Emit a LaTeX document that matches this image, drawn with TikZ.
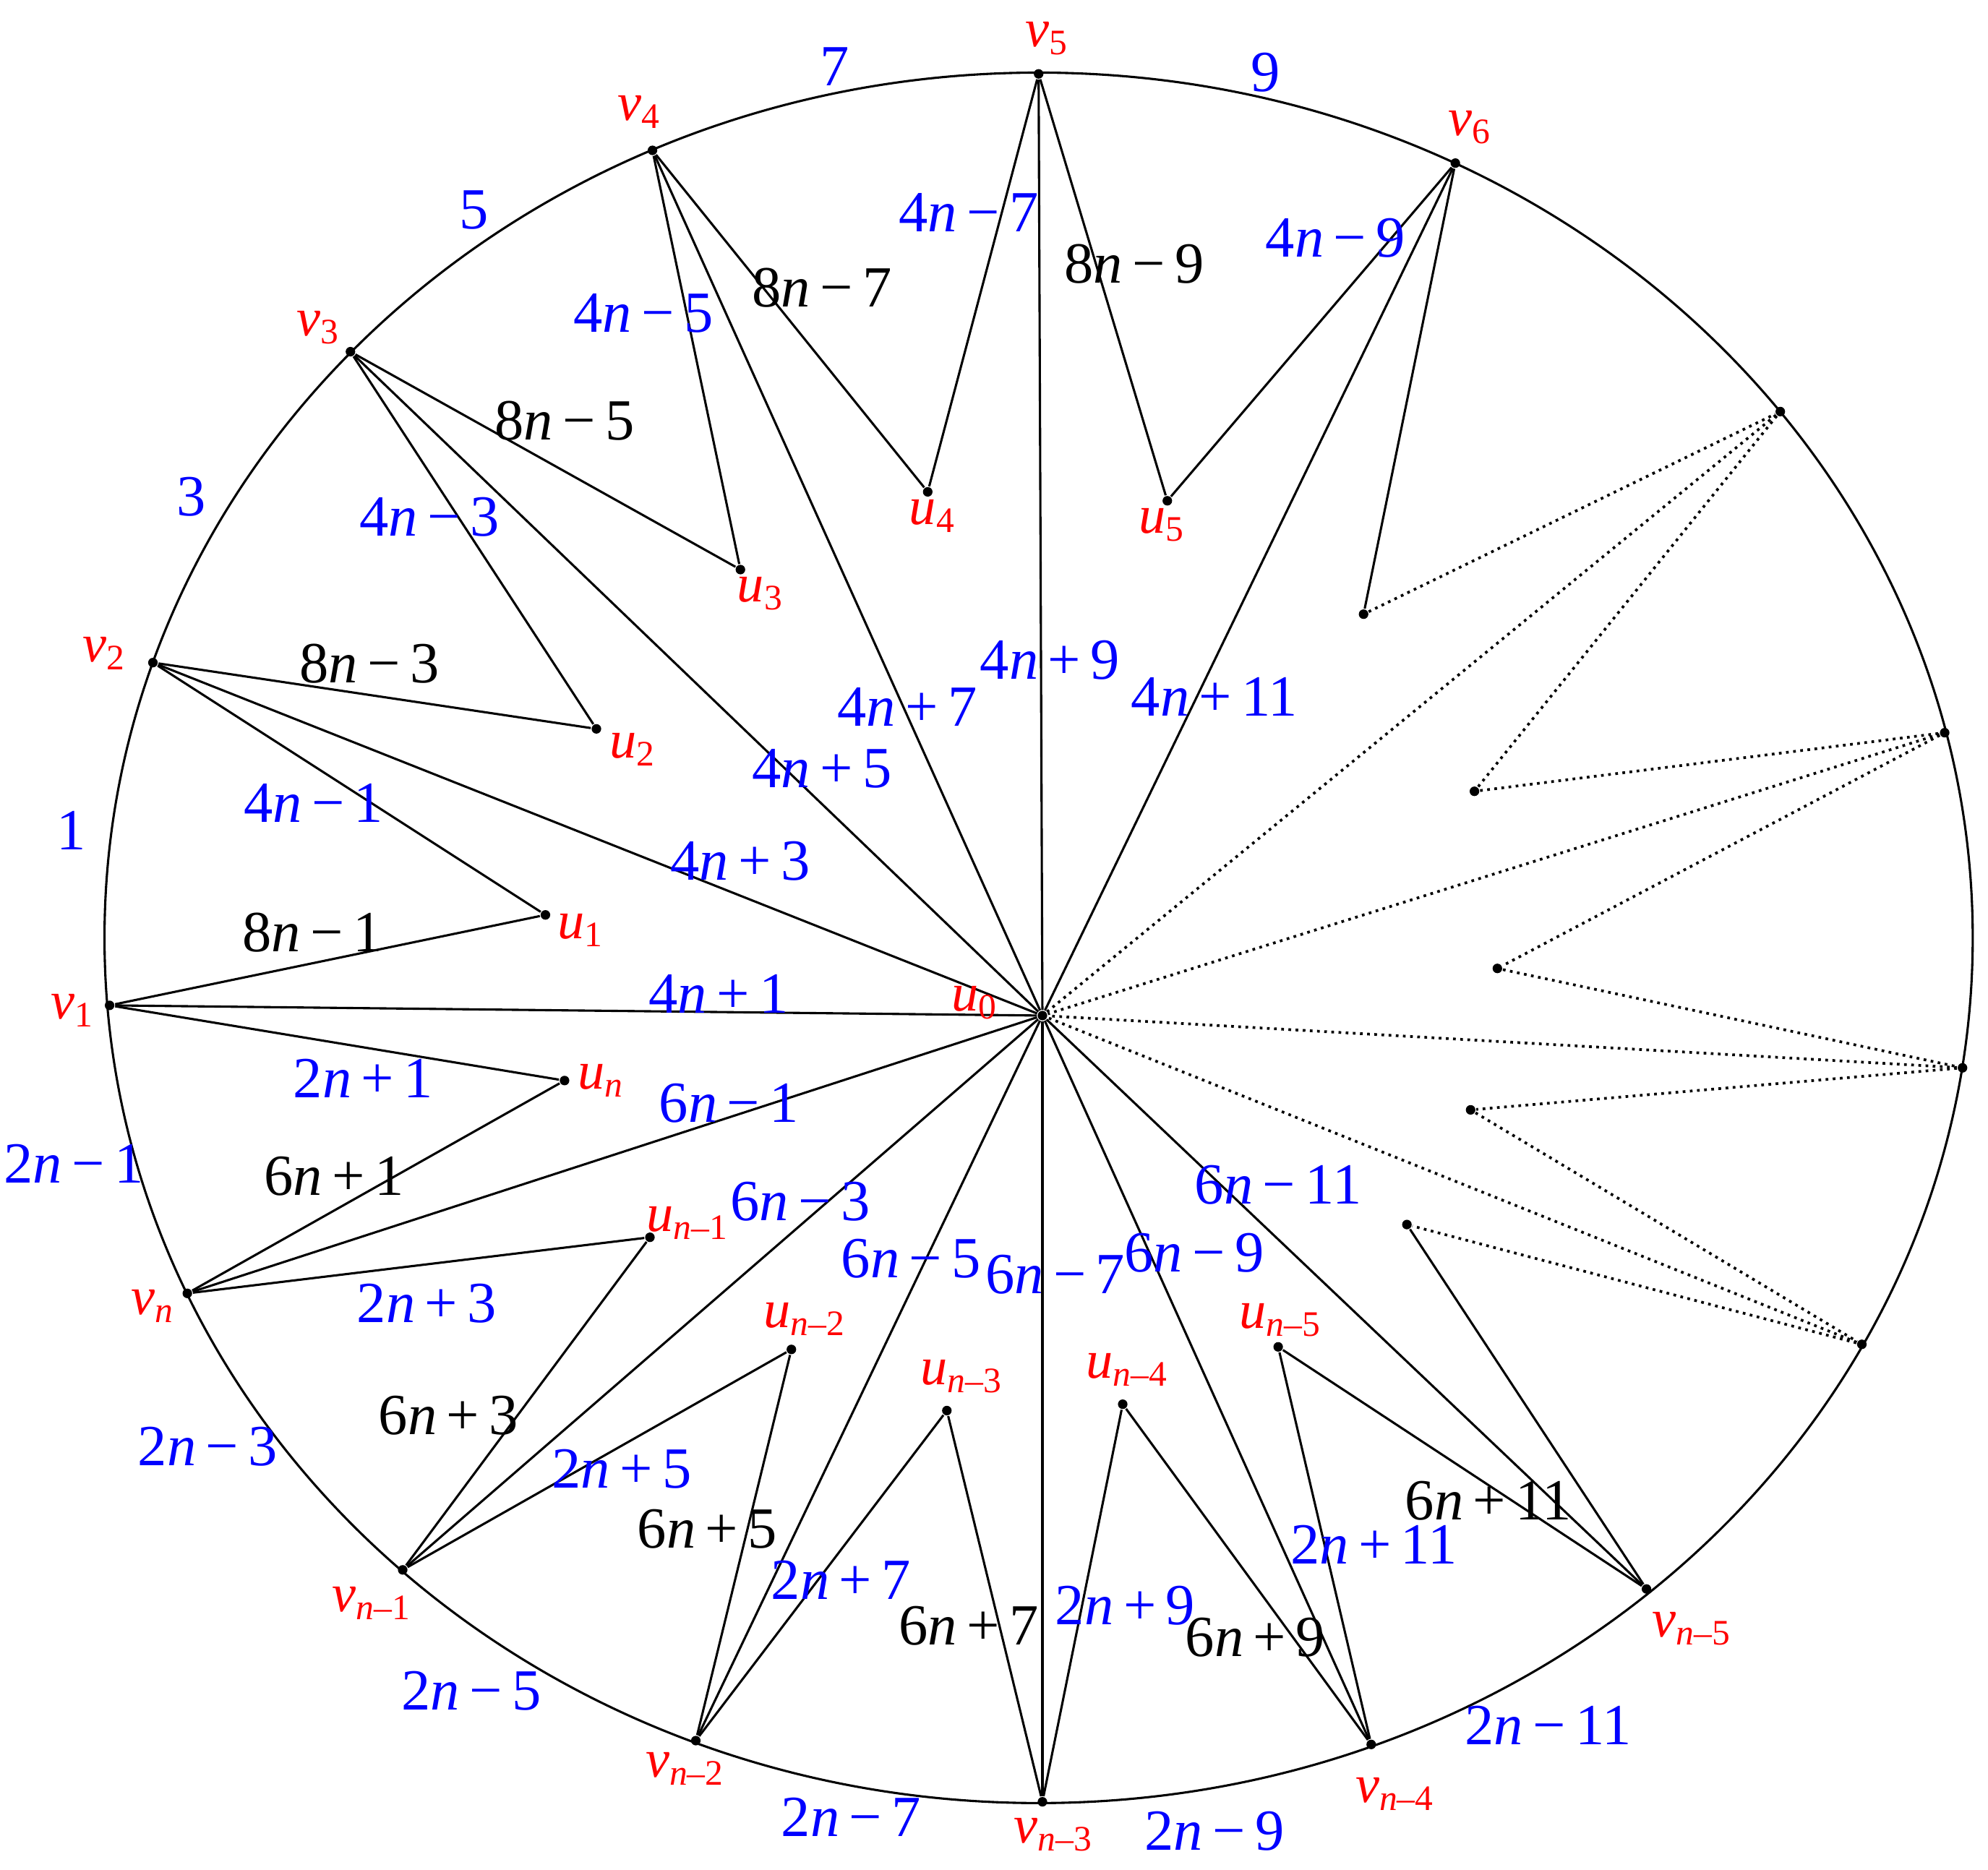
\documentclass[tikz,border=0pt]{standalone}
\usepackage{fontspec}
\setmainfont{Liberation Serif}
\begin{document}
\begin{tikzpicture}[x=0.01cm,y=-0.01cm,
  dot/.style={circle,fill=black,inner sep=0pt,minimum size=0.075cm},
  edge/.style={line width=0.5pt},
  dotted edge/.style={line width=0.6pt,densely dotted},
  bl/.style={text=blue,font=\fontsize{13}{15}\selectfont,inner sep=0pt},
  bk/.style={text=black,font=\fontsize{13}{15}\selectfont,inner sep=0pt},
  rd/.style={text=red,font=\fontsize{12}{14}\selectfont,inner sep=0pt}]
\useasboundingbox (0,0) rectangle (1560,1467);
\draw[edge] (815,736) ellipse [x radius=733, y radius=679];
% vertices
\foreach \n/\x/\y in {v1/86/789,v2/120/520,v3/275/276,v4/512/118,v5/815/58,v6/1142/128,
 r1/1397/323,r2/1526/575,r3/1540/838,r4/1461/1055,vn5/1292/1247,vn4/1076/1369,vn3/818/1414,
 vn2/546/1366,vn1/316/1232,vn/147/1015,u0/818/797,u1/428/718,u2/468/572,u3/581/447,u4/728/386,
 u5/916/393,w1/1070/482,w2/1157/621,w3/1175/760,w4/1154/871,w5/1104/961,un5/1003/1057,
 un4/881/1102,un3/743/1107,un2/621/1059,un1/510/971,un/443/848}
 \node[dot] (\n) at (\x,\y) {};
% spokes
\foreach \a in {v1,v2,v3,v4,v5,v6,vn5,vn4,vn3,vn2,vn1,vn} \draw[edge] (\a) -- (u0);
\foreach \a in {r1,r2,r3,r4} \draw[dotted edge] (\a) -- (u0);
% triangles
\foreach \a/\b in {v1/u1,u1/v2,v2/u2,u2/v3,v3/u3,u3/v4,v4/u4,u4/v5,v5/u5,u5/v6,v6/w1,w5/vn5,
 vn5/un5,un5/vn4,vn4/un4,un4/vn3,vn3/un3,un3/vn2,vn2/un2,un2/vn1,vn1/un1,un1/vn,vn/un,un/v1}
 \draw[edge] (\a) -- (\b);
\foreach \a/\b in {w1/r1,r1/w2,w2/r2,r2/w3,w3/r3,r3/w4,w4/r4,r4/w5} \draw[dotted edge] (\a) -- (\b);
% blue labels
\foreach \t/\x/\y in {7/655/52,9/993/57,5/372/165,3/150/390,1/56/652,
 2\textit{n}\,−\,1/58/913,2\textit{n}\,−\,3/163/1135,2\textit{n}\,−\,5/370/1327,2\textit{n}\,−\,7/668/1426,
 2\textit{n}\,−\,9/953/1437,2\textit{n}\,−\,11/1215/1354,
 4\textit{n}\,−\,7/760/167,4\textit{n}\,−\,9/1048/187,4\textit{n}\,−\,5/505/246,4\textit{n}\,−\,3/337/406,
 4\textit{n}\,−\,1/246/630,4\textit{n}\,+\,9/824/518,4\textit{n}\,+\,11/953/547,4\textit{n}\,+\,7/712/555,
 4\textit{n}\,+\,5/645/603,4\textit{n}\,+\,3/581/676,4\textit{n}\,+\,1/564/780,2\textit{n}\,+\,1/285/846,
 6\textit{n}\,−\,1/572/866,6\textit{n}\,−\,3/628/943,6\textit{n}\,−\,5/715/988,6\textit{n}\,−\,7/828/1000,
 6\textit{n}\,−\,9/937/983,6\textit{n}\,−\,11/1003/930,2\textit{n}\,+\,3/335/1023,2\textit{n}\,+\,5/488/1153,
 2\textit{n}\,+\,7/660/1240,2\textit{n}\,+\,9/883/1260,2\textit{n}\,+\,11/1078/1212}
 \node[bl] (b\x-\y) at (\x,\y) {\t};
% black labels
\foreach \t/\x/\y in {8\textit{n}\,−\,7/645/226,8\textit{n}\,−\,9/890/207,8\textit{n}\,−\,5/443/330,
 8\textit{n}\,−\,3/290/521,8\textit{n}\,−\,1/245/732,6\textit{n}\,+\,1/262/923,6\textit{n}\,+\,3/352/1111,
 6\textit{n}\,+\,5/555/1200,6\textit{n}\,+\,7/760/1276,6\textit{n}\,+\,9/985/1285,6\textit{n}\,+\,11/1168/1178}
 \node[bk] (k\x-\y) at (\x,\y) {\t};
% red labels
\foreach \s/\x/\y in {5/822/30,4/502/88,6/1154/100,3/250/257,2/82/513,1/57/793,\textit{n}/120/1025,
 \textit{n}–1/292/1258,\textit{n}–2/538/1388,\textit{n}–3/827/1440,\textit{n}–4/1095/1408,\textit{n}–5/1328/1278}
 \node[rd] (lv\x-\y) at (\x,\y) {\textit{v}\textsubscript{\s}};
\foreach \s/\x/\y in {0/765/787,1/456/730,2/497/588,3/597/466,4/732/405,5/912/412,\textit{n}/472/848,
 \textit{n}–1/540/960,\textit{n}–2/632/1035,\textit{n}–3/755/1080,\textit{n}–4/885/1075,\textit{n}–5/1005/1036}
 \node[rd] (lu\x-\y) at (\x,\y) {\textit{u}\textsubscript{\s}};
\end{tikzpicture}
\end{document}
